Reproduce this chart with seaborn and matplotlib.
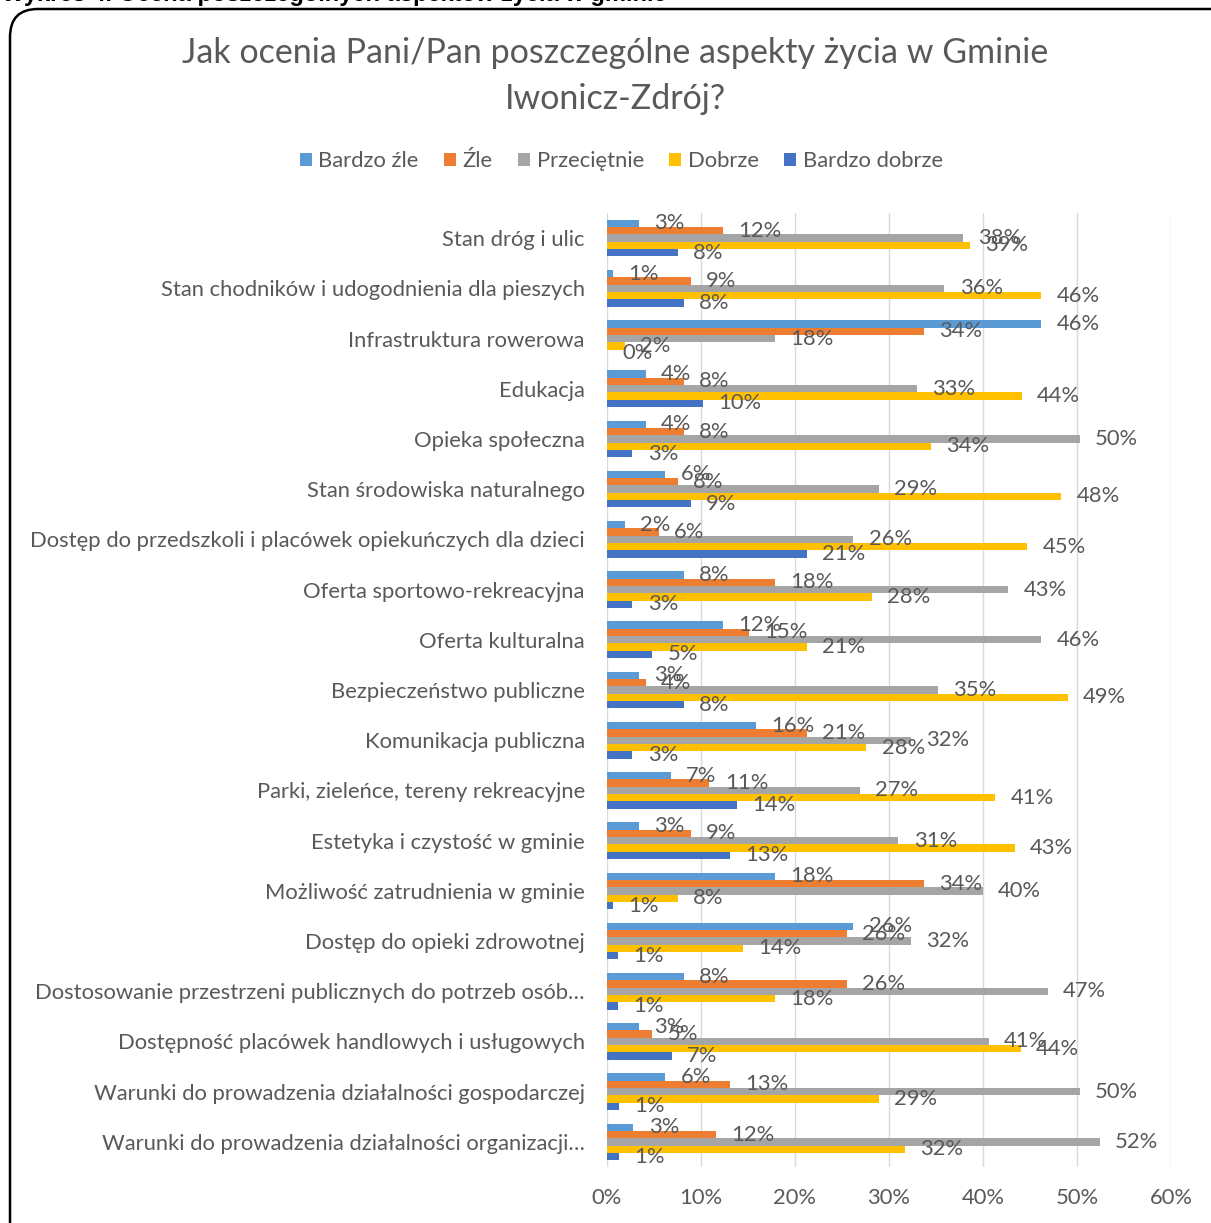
import matplotlib
matplotlib.use("Agg")
import matplotlib.pyplot as plt
from matplotlib.patches import FancyBboxPatch, Patch
import seaborn as sns
import pandas as pd

categories = [
    "Stan dróg i ulic",
    "Stan chodników i udogodnienia dla pieszych",
    "Infrastruktura rowerowa",
    "Edukacja",
    "Opieka społeczna",
    "Stan środowiska naturalnego",
    "Dostęp do przedszkoli i placówek opiekuńczych dla dzieci",
    "Oferta sportowo-rekreacyjna",
    "Oferta kulturalna",
    "Bezpieczeństwo publiczne",
    "Komunikacja publiczna",
    "Parki, zieleńce, tereny rekreacyjne",
    "Estetyka i czystość w gminie",
    "Możliwość zatrudnienia w gminie",
    "Dostęp do opieki zdrowotnej",
    "Dostosowanie przestrzeni publicznych do potrzeb osób…",
    "Dostępność placówek handlowych i usługowych",
    "Warunki do prowadzenia działalności gospodarczej",
    "Warunki do prowadzenia działalności organizacji…",
]
series_names = ["Bardzo źle", "Źle", "Przeciętnie", "Dobrze", "Bardzo dobrze"]

bardzo_zle = [3.4, 0.6, 46.2, 4.1, 4.1, 6.2, 1.9, 8.2, 12.3, 3.4, 15.8, 6.8, 3.4, 17.9, 26.2, 8.2, 3.4, 6.2, 2.8]
zle = [12.3, 8.9, 33.7, 8.2, 8.2, 7.5, 5.5, 17.9, 15.1, 4.1, 21.3, 10.9, 8.9, 33.7, 25.5, 25.5, 4.8, 13.1, 11.6]
przecietnie = [37.9, 35.9, 17.9, 33.0, 50.3, 28.9, 26.2, 42.7, 46.2, 35.2, 32.3, 26.9, 31.0, 40.0, 32.3, 46.9, 40.6, 50.3, 52.4]
dobrze = [38.6, 46.2, 1.9, 44.1, 34.5, 48.3, 44.7, 28.2, 21.3, 49.0, 27.6, 41.3, 43.4, 7.5, 14.5, 17.9, 44.0, 28.9, 31.7]
bardzo_dobrze = [7.5, 8.2, 0.0, 10.2, 2.7, 8.9, 21.3, 2.7, 4.8, 8.2, 2.7, 13.8, 13.1, 0.6, 1.2, 1.2, 6.9, 1.3, 1.3]

x_ticks = [0, 10, 20, 30, 40, 50, 60]
x_tick_labels = ["0%", "10%", "20%", "30%", "40%", "50%", "60%"]

colors = ["#5B9BD5", "#ED7D31", "#A5A5A5", "#FFC000", "#4472C4"]
text_color = "#595959"

all_series = [bardzo_zle, zle, przecietnie, dobrze, bardzo_dobrze]
rows = []
for name, vals in zip(series_names, all_series):
    for cat, v in zip(categories, vals):
        rows.append({"aspekt": cat, "ocena": name, "wartosc": v})
df = pd.DataFrame(rows)

sns.set_theme(style="white")
plt.rcParams["font.family"] = ["Lato", "DejaVu Sans"]

FS = 15.8

fig = plt.figure(figsize=(12.11, 12.23), dpi=100)
ax = fig.add_axes([607 / 1211, 1 - 1167 / 1223, (1171 - 607) / 1211, (1167 - 213) / 1223])

sns.barplot(data=df, y="aspekt", x="wartosc", hue="ocena", orient="h",
            order=categories, hue_order=series_names, palette=colors,
            saturation=1, width=0.73, linewidth=0, ax=ax, legend=False)

for cont, vals in zip(ax.containers, all_series):
    ax.bar_label(cont, labels=[f"{round(v)}%" for v in vals], padding=11,
                 fontsize=FS, color=text_color)

ax.set_xlim(0, 60)
ax.set_xticks(x_ticks)
ax.set_xticklabels(x_tick_labels)
ax.set_xlabel("")
ax.set_ylabel("")
for s in ax.spines.values():
    s.set_visible(False)
ax.xaxis.grid(True, color="#d9d9d9", linewidth=1)
ax.yaxis.grid(False)
ax.set_axisbelow(True)
ax.tick_params(axis="both", length=0, labelsize=FS, labelcolor=text_color)
ax.tick_params(axis="y", pad=16)
ax.tick_params(axis="x", pad=15)

fig.text(0.508, 1 - 53 / 1223, "Jak ocenia Pani/Pan poszczególne aspekty życia w Gminie",
         ha="center", va="center", fontsize=24.5, color=text_color)
fig.text(0.508, 1 - 99 / 1223, "Iwonicz-Zdrój?",
         ha="center", va="center", fontsize=24.5, color=text_color)

handles = [Patch(facecolor=c, edgecolor="none") for c in colors]
fig.legend(handles, series_names, loc="center", bbox_to_anchor=(0.513, 1 - 161 / 1223),
           ncol=5, frameon=False, fontsize=FS, labelcolor=text_color,
           handlelength=0.55, handleheight=0.55, handletextpad=0.3, columnspacing=1.15)

border = FancyBboxPatch((10 / 1211, -0.05), 1.2, 1 - 9 / 1223 + 0.05,
                        boxstyle="round,pad=0,rounding_size=0.023",
                        transform=fig.transFigure, facecolor="none",
                        edgecolor="black", linewidth=1.8, clip_on=False)
fig.patches.append(border)

fig.text(0.002, 1 - 1.5 / 1223, "Wykres 4. Ocena poszczególnych aspektów życia w gminie",
         ha="left", va="baseline", fontsize=17, fontweight="bold", color="black",
         family=["Liberation Sans", "DejaVu Sans"])

fig.savefig("out.png", dpi=100)
